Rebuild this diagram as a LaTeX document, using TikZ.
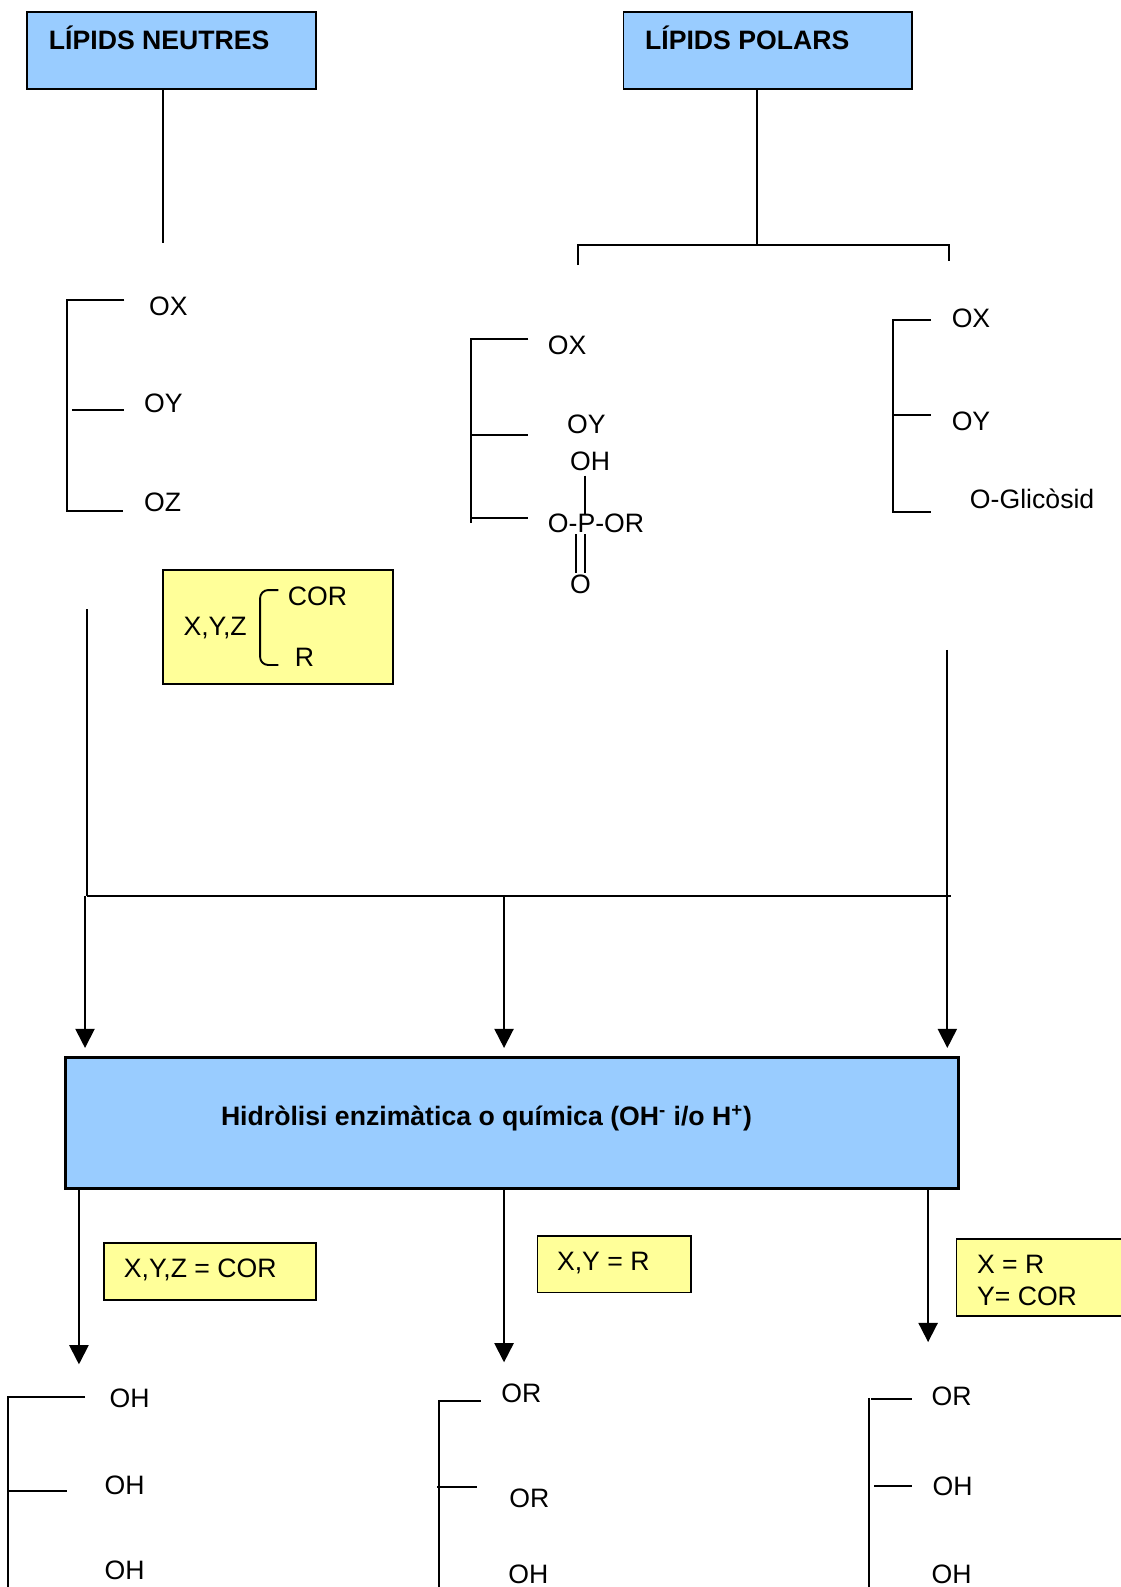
\documentclass[tikz,border=0pt]{standalone}
\usepackage{fontspec}
\setmainfont{Liberation Sans}
\usetikzlibrary{arrows.meta,fit}
\definecolor{lipblue}{RGB}{153,204,255}
\definecolor{lipyel}{RGB}{255,255,153}
\tikzset{
  blk/.style={draw=black, line width=1pt, fill=lipblue, inner sep=0pt},
  hbox/.style={draw=black, line width=1.8pt, fill=lipblue, inner sep=0pt},
  ybox/.style={draw=black, line width=1pt, fill=lipyel, inner sep=0pt},
  ttl/.style={font=\fontsize{14.2}{17}\selectfont\bfseries, anchor=base west, inner sep=0pt},
  grp/.style={font=\fontsize{14.2}{17}\selectfont, anchor=base west, inner sep=0pt},
  bnd/.style={line width=1pt},
  arr/.style={-{Triangle[length=3.6mm, width=3.6mm]}, line width=1pt},
}

\begin{document}
\begin{tikzpicture}[x=0.01897cm, y=-0.01897cm]
  \useasboundingbox (0,0) rectangle (1107,1568);
  % title boxes
  \node[blk, fit={(27,12) (312,88)}] (neu) {};
  \node[ttl] (neut) at (48,48.5) {LÍPIDS NEUTRES};
  \node[blk, fit={(616,12) (901,88)}] (pol) {};
  \node[ttl] (polt) at (637,48.5) {LÍPIDS POLARS};
  \coordinate (neuend) at (161,240);
  \coordinate (polj) at (748,242);
  \draw[bnd] (neu.south -| neuend) -- (neuend);
  \draw[bnd] (pol.south -| polj) -- (polj);
  \draw[bnd] (571,262) -- (571,242) -- (938,242) -- (938,258);

  % triacilglicerol
  \draw[bnd] (123,296) -- (66,296) -- (66,505) -- (122,505);
  \draw[bnd] (71,405) -- (123,405);
  \node[grp] (nx) at (147,311.5) {OX};
  \node[grp] (ny) at (142,407.5) {OY};
  \node[grp] (nz) at (142,505.5) {OZ};

  % fosfolipid
  \draw[bnd] (522,335) -- (465,335) -- (465,517);
  \draw[bnd] (465,430) -- (522,430);
  \draw[bnd] (465,512) -- (522,512);
  \node[grp] (fx) at (541,350.5) {OX};
  \node[grp] (fy) at (560,428.5) {OY};
  \node[grp] (foh) at (563,464.5) {OH};
  \node[grp] (fp) at (541,526.5) {O-P-OR};
  \node[grp] (fo) at (563,586.5) {O};
  \draw[bnd] (578,470) -- (578,508);
  \draw[bnd] (569,528) -- (569,566);
  \draw[bnd] (578,528) -- (578,566);

  % glicolipid
  \draw[bnd] (920,316) -- (882,316) -- (882,506) -- (920,506);
  \draw[bnd] (882,410) -- (920,410);
  \node[grp] (gx) at (940,323.5) {OX};
  \node[grp] (gy) at (940,425.5) {OY};
  \node[grp] (gg) at (958,502.5) {O-Glicòsid};

  % X,Y,Z
  \node[ybox, fit={(161,563) (388,676)}] (xyz) {};
  \node[grp] (xyzt) at (181,627.5) {X,Y,Z};
  \draw[bnd, rounded corners=0.15cm] (275,583) -- (257,583) -- (257,657) -- (275,657);
  \node[grp] (xcor) at (284,598.5) {COR};
  \node[grp] (xr) at (291,658.5) {R};

  % cap a la hidrolisi
  \coordinate (j1) at (84,885);
  \coordinate (j2) at (498,885);
  \coordinate (j3) at (936,885);
  \draw[bnd] (86,602) -- (86,885);
  \draw[bnd] (936,642) -- (936,885);
  \draw[bnd] (86,885) -- (940,885);

  \node[hbox, fit={(65,1045) (947,1174)}] (hyd) {};
  \node[ttl] (hydt) at (218,1112.5) {Hidròlisi enzimàtica o química (OH\textsuperscript{-} i/o H\textsuperscript{+})};
  \foreach \j in {j1,j2,j3}
    \draw[arr, shorten >=0.15cm] (\j) -- (\j |- hyd.north);

  % productes
  \coordinate (p1) at (78,1348);
  \coordinate (p2) at (498,1346);
  \coordinate (p3) at (917,1326);
  \foreach \p in {p1,p2,p3}
    \draw[arr] (hyd.south -| \p) -- (\p);

  \node[ybox, fit={(103,1228) (312,1284)}] (c1) {};
  \node[grp] (c1t) at (122,1262.5) {X,Y,Z = COR};
  \node[ybox, fit={(531,1221) (683,1277)}] (c2) {};
  \node[grp] (c2t) at (550,1255.5) {X,Y = R};
  \node[ybox, fit={(945,1224) (1115,1300)}] (c3) {};
  \node[grp] (c3a) at (965,1258.5) {X = R};
  \node[grp] (c3b) at (965,1289.5) {Y= COR};

  % glicerol
  \draw[bnd] (84,1380) -- (8,1380) -- (8,1575);
  \draw[bnd] (8,1473) -- (66,1473);
  \node[grp] (g1) at (108,1390.5) {OH};
  \node[grp] (g2) at (103,1476.5) {OH};
  \node[grp] (g3) at (103,1560.5) {OH};

  % 1,2-dialquilglicerol
  \draw[bnd] (475,1384) -- (434,1384) -- (434,1575);
  \draw[bnd] (432,1469) -- (471,1469);
  \node[grp] (d1) at (495,1385.5) {OR};
  \node[grp] (d2) at (503,1489.5) {OR};
  \node[grp] (d3) at (502,1564.5) {OH};

  % 1-alquil-2-acilglicerol
  \draw[bnd] (859,1381) -- (859,1575);
  \draw[bnd] (861,1382) -- (901,1382);
  \draw[bnd] (864,1468) -- (901,1468);
  \node[grp] (a1) at (920,1388.5) {OR};
  \node[grp] (a2) at (921,1477.5) {OH};
  \node[grp] (a3) at (920,1564.5) {OH};
\end{tikzpicture}
\end{document}
